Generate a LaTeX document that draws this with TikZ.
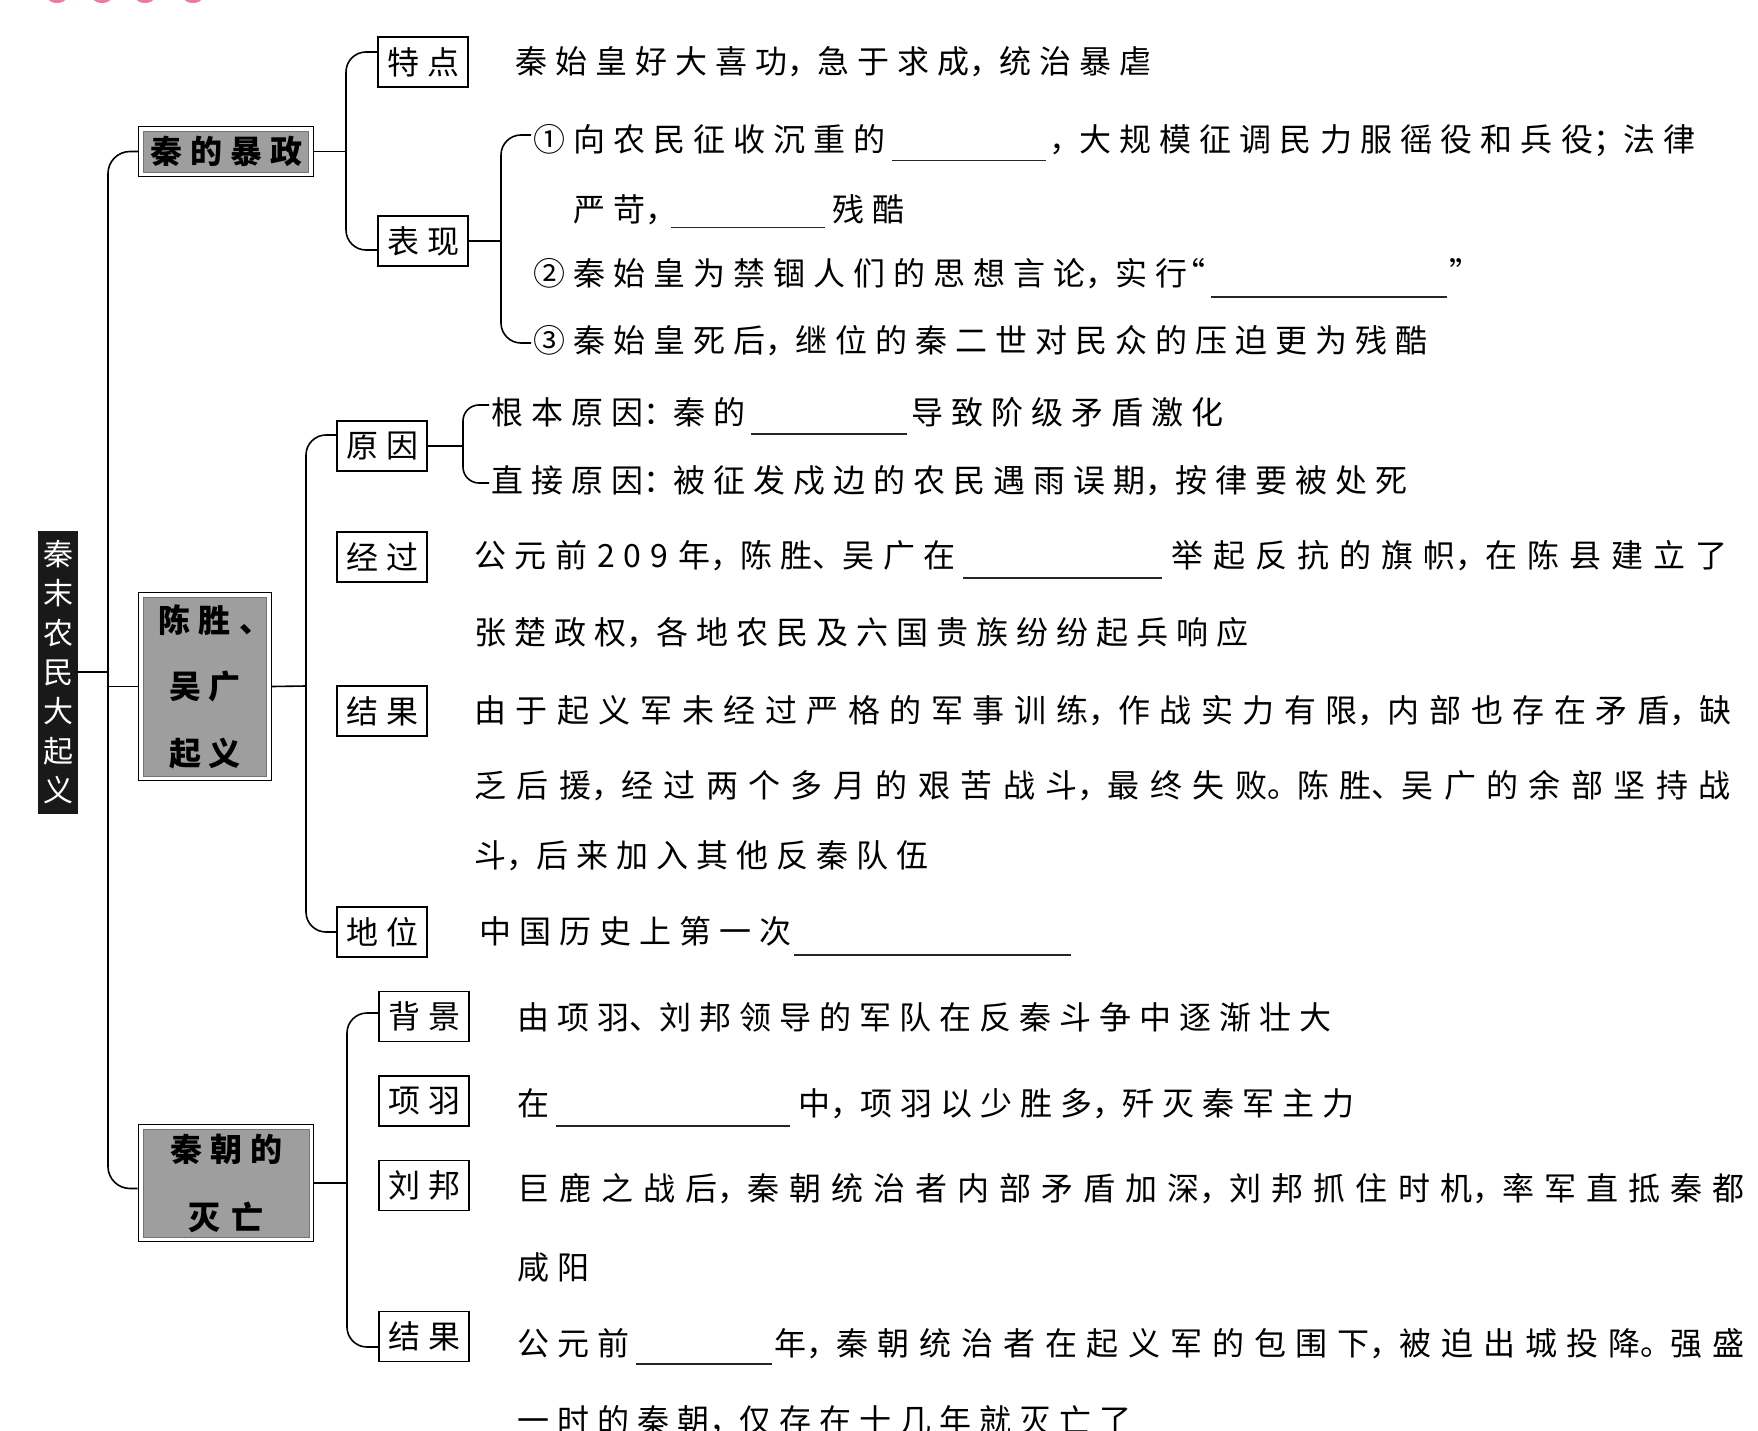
\documentclass[tikz,border=0pt]{standalone}
\usepackage{fontspec}
\usetikzlibrary{fit}
\newfontfamily\cjk[LetterSpace=25]{Noto Sans CJK SC}
\newfontfamily\cjkn{Noto Sans CJK SC}
\newcommand\dou{\kern0pt，\kern-2pt}
\newcommand\dun{\kern0pt、\kern-2pt}
\newcommand\mao{\kern0pt：\kern-2pt}
\newcommand\fenh{\kern0pt；\kern-2pt}
\newcommand\juh{\kern0pt。\kern-2pt}
\newcommand\blank[1]{{\color{black!85}\rule[-9.5pt]{#1pt}{1.4pt}}}
\newcommand\gp{\kern8pt}
\definecolor{shadegray}{RGB}{158,158,158}
\definecolor{pinkc}{RGB}{242,120,160}
\begin{document}
\begin{tikzpicture}[x=1pt,y=-1pt,
  txt/.style={anchor=base west,inner sep=0pt,font=\cjk\fontsize{32}{38}\selectfont},
  jtxt/.style={anchor=base west,inner sep=0pt,font={\cjkn\fontsize{32}{38}\selectfont\addfontfeature{LetterSpace=#1}}},
  blk/.style={anchor=base west,inner sep=0pt},
  lab/.style={draw,line width=1.3pt,fill=white,minimum width=90pt,minimum height=50pt,inner sep=0pt,font=\cjkn\fontsize{32}{38}\selectfont},
  shadebox/.style={fill=shadegray,draw=black!55,line width=0.6pt,inner sep=0pt,align=center},
  outerframe/.style={draw,line width=1.3pt,inner sep=4.5pt},
  conn/.style={line width=1.6pt},
  brk/.style={line width=1.6pt,rounded corners=20pt}]
\useasboundingbox (0,0) rectangle (1758,1431);
\clip (0,0) rectangle (1758,1431);
\fill[white] (0,0) rectangle (1758,1431);
\foreach \cx in {57,102,145,193} \fill[pinkc] (\cx,-11) circle (14pt);

% root
\node[fill=black!90,text=white,minimum width=40pt,minimum height=283pt,inner sep=0pt,align=center,
  font=\cjkn\fontsize{30}{39.3}\selectfont] (root) at (58,672) {秦\\末\\农\\民\\大\\起\\义};

% shaded boxes
\node[shadebox,minimum width=165pt,minimum height=41pt,font=\cjkn\bfseries\fontsize{32}{38}\selectfont] (bzi) at (226,151.5) {秦\gp 的\gp 暴\gp 政};
\node[outerframe,fit=(bzi)] (bz) {};
\node[shadebox,minimum width=123pt,minimum height=179pt,font=\cjkn\bfseries\fontsize{32}{66.5}\selectfont] (csi) at (205,686.5) {陈\gp 胜\kern9pt 、\kern-20pt\\吴\gp 广\\起\gp 义};
\node[outerframe,fit=(csi)] (cs) {};
\node[shadebox,minimum width=166pt,minimum height=108pt,font=\cjkn\bfseries\fontsize{32}{68}\selectfont] (mwi) at (226,1183) {秦\gp 朝\gp 的\\灭\kern12pt 亡};
\node[outerframe,fit=(mwi)] (mw) {};

% label boxes
\node[lab] (tedian) at (423,62) {特\gp 点};
\node[lab] (biaoxian) at (423,241) {表\gp 现};
\node[lab] (yuanyin) at (382,446) {原\gp 因};
\node[lab] (jingguo) at (382,557) {经\gp 过};
\node[lab] (jieguoa) at (382,711) {结\gp 果};
\node[lab] (diwei) at (382,932) {地\gp 位};
\node[lab] (beijing) at (424,1016.5) {背\gp 景};
\node[lab] (xiangyu) at (424,1101) {项\gp 羽};
\node[lab] (liubang) at (424,1185.5) {刘\gp 邦};
\node[lab] (jieguob) at (424,1336.5) {结\gp 果};

% texts
\node[txt] (t1) at (515,74) {秦始皇好大喜功\dou 急于求成\dou 统治暴虐};
\node[txt] (l1a) at (533,152) {①向农民征收沉重的};
\node[blk] (u1) at (892,152) {\blank{154}};
\node[jtxt=25.5] (l1b) at (1049,152) {\dou 大规模征调民力服徭役和兵役\fenh 法律};
\node[txt] (l2a) at (573,222) {严苛\dou};
\node[blk] (u2) at (671,219) {\blank{154}};
\node[txt] (l2b) at (832,222) {残酷};
\node[txt] (l3a) at (533,286) {②秦始皇为禁锢人们的思想言论\dou 实行\kern-14pt“};
\node[blk] (u3) at (1211,288) {\blank{236}};
\node[txt] (l3b) at (1449,286) {”};
\node[txt] (l4) at (533,352) {③秦始皇死后\dou 继位的秦二世对民众的压迫更为残酷};
\node[txt] (r1a) at (491,424) {根本原因\mao 秦的};
\node[blk] (u4) at (751,425) {\blank{156}};
\node[txt] (r1b) at (911,424) {导致阶级矛盾激化};
\node[txt] (r2) at (491,492) {直接原因\mao 被征发戍边的农民遇雨误期\dou 按律要被处死};
\node[jtxt=27] (j1a) at (474,567) {公元前\kern10pt 209\kern10pt 年\dou 陈胜\dun 吴广在};
\node[blk] (u5) at (963,569) {\blank{199}};
\node[jtxt=31.25] (j1b) at (1171,567) {举起反抗的旗帜\dou 在陈县建立了};
\node[txt] (j2) at (474,644) {张楚政权\dou 各地农民及六国贵族纷纷起兵响应};
\node[jtxt=29.9] (g1) at (474,722) {由于起义军未经过严格的军事训练\dou 作战实力有限\dou 内部也存在矛盾\dou 缺};
\node[jtxt=32.7] (g2) at (474,797) {乏后援\dou 经过两个多月的艰苦战斗\dou 最终失败\juh 陈胜\dun 吴广的余部坚持战};
\node[txt] (g3) at (474,867) {斗\dou 后来加入其他反秦队伍};
\node[txt] (d1) at (479,943) {中国历史上第一次};
\node[blk] (u6) at (794,946) {\blank{277}};
\node[txt] (bj) at (517,1029) {由项羽\dun 刘邦领导的军队在反秦斗争中逐渐壮大};
\node[txt] (x1a) at (517,1115) {在};
\node[blk] (u7) at (556,1117) {\blank{234}};
\node[txt] (x1b) at (798,1115) {中\dou 项羽以少胜多\dou 歼灭秦军主力};
\node[jtxt=31.4] (lb1) at (517,1200) {巨鹿之战后\dou 秦朝统治者内部矛盾加深\dou 刘邦抓住时机\dou 率军直抵秦都};
\node[txt] (lb2) at (517,1279) {咸阳};
\node[txt] (e1a) at (517,1355) {公元前};
\node[blk] (u8) at (636,1355) {\blank{136}};
\node[jtxt=30.6] (e1b) at (774,1355) {年\dou 秦朝统治者在起义军的包围下\dou 被迫出城投降\juh 强盛};
\node[txt] (e2) at (517,1432) {一时的秦朝\dou 仅存在十几年就灭亡了};

% connectors
\coordinate (tk) at (108,672);
\draw[conn] (root.east) -- (tk);
\draw[brk,rounded corners=22pt] (bz.west) -| (tk) |- ([yshift=-5.5pt]mw.west);
\draw[conn] (cs.west) -- (cs.west -| tk);

\coordinate (b1) at (346,151.5);
\draw[conn] (bz.east) -- (b1);
\draw[brk] ([yshift=10pt]tedian.west) -| (b1) |- ([yshift=-9pt]biaoxian.west);

\coordinate (b2) at (501,241);
\draw[conn] (biaoxian.east) -- (b2);
\draw[brk] ([shift={(-2pt,17pt)}]l1a.base west) -| (b2) |- ([shift={(-2pt,9pt)}]l4.base west);

\coordinate (b3) at (463,446);
\draw[conn] (yuanyin.east) -- (b3);
\draw[brk,rounded corners=16pt] ([shift={(-2pt,19pt)}]r1a.base west) -| (b3) |- ([shift={(-2pt,9pt)}]r2.base west);

\coordinate (b4) at (306,686);
\draw[conn] (cs.east) -- (b4);
\draw[brk] ([yshift=11pt]yuanyin.west) -| (b4) |- (diwei.west);

\coordinate (b5) at (347,1183);
\draw[conn] (mw.east) -- (b5);
\draw[brk] ([yshift=3.5pt]beijing.west) -| (b5) |- ([yshift=-10.5pt]jieguob.west);
\end{tikzpicture}
\end{document}
